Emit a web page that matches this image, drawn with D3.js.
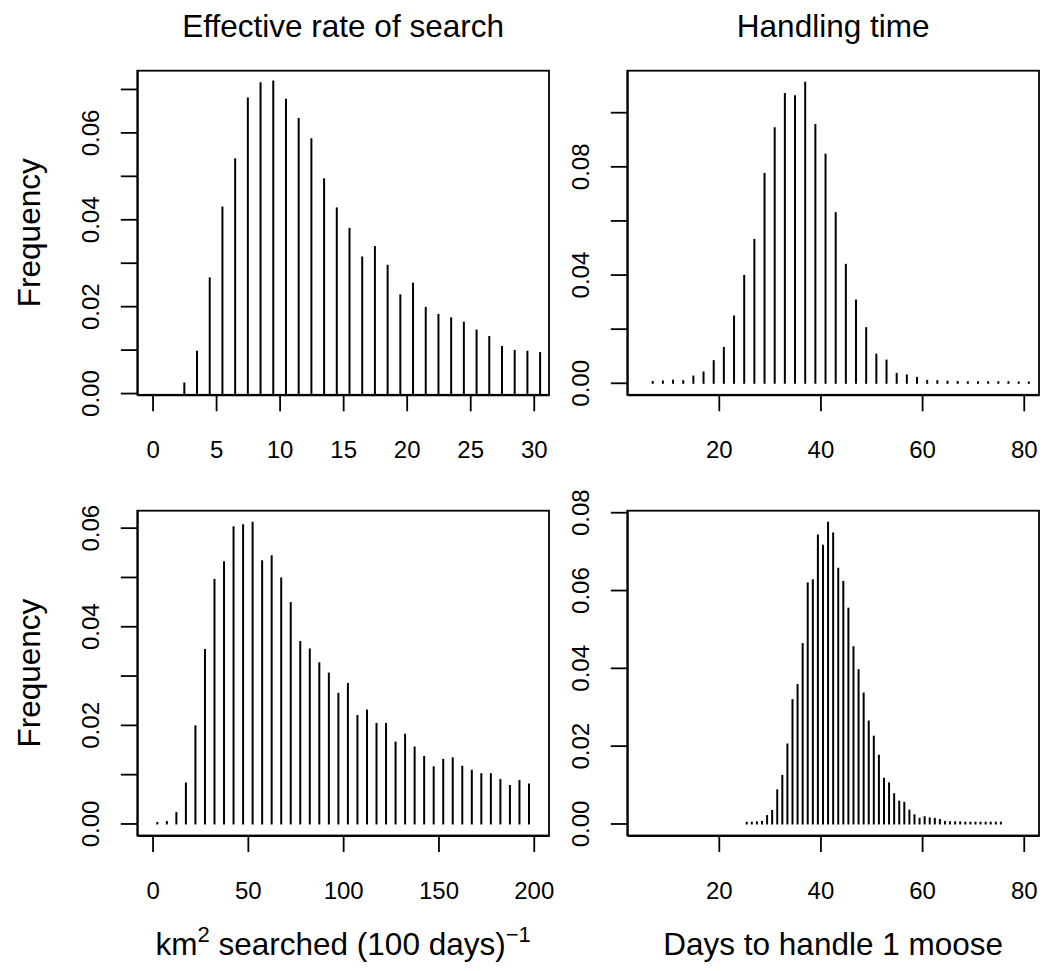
<!DOCTYPE html>
<html><head><meta charset="utf-8">
<script src="https://cdn.jsdelivr.net/npm/d3@7"></script>
<style>body{margin:0;background:#fff}svg{display:block}text{font-family:"Liberation Sans",Arial,Helvetica,sans-serif;fill:#000}</style>
</head><body><svg id="c" width="1045" height="971"></svg>
<script>
// ---- data ----
const searchDaysX = [2.5,3.5,4.5,5.5,6.5,7.5,8.5,9.5,10.5,11.5,12.5,13.5,14.5,15.5,16.5,17.5,18.5,19.5,20.5,21.5,22.5,23.5,24.5,25.5,26.5,27.5,28.5,29.5,30.5];
const searchDaysY = [0.0022,0.0095,0.0264,0.0427,0.0538,0.0678,0.0713,0.0717,0.0675,0.0631,0.0584,0.0492,0.0425,0.0378,0.0312,0.0336,0.0293,0.0225,0.0252,0.0196,0.0180,0.0172,0.0162,0.0144,0.0129,0.0106,0.0097,0.0095,0.0092];
const handleTopX = [7,9,11,13,15,17,19,21,23,25,27,29,31,33,35,37,39,41,43,45,47,49,51,53,55,57,59,61,63,65,67,69,71,73,75,77,79,81];
const handleTopY = [0.0003,0.0005,0.0008,0.0006,0.0023,0.0038,0.0080,0.0129,0.0245,0.0395,0.0528,0.0772,0.0941,0.1067,0.1059,0.1109,0.0953,0.0843,0.0627,0.0436,0.0304,0.0202,0.0104,0.0082,0.0033,0.0027,0.0018,0.0007,0.0006,0.0004,0.0003,0.0002,0.0002,0.0002,0.0002,0.0002,0.0001,0.0001];
const searchKmX = [2.5,7.5,12.5,17.5,22.5,27.5,32.5,37.5,42.5,47.5,52.5,57.5,62.5,67.5,72.5,77.5,82.5,87.5,92.5,97.5,102.5,107.5,112.5,117.5,122.5,127.5,132.5,137.5,142.5,147.5,152.5,157.5,162.5,167.5,172.5,177.5,182.5,187.5,192.5,197.5];
const searchKmY = [0.0001,0.0003,0.0021,0.0081,0.0197,0.0352,0.0494,0.0530,0.0601,0.0605,0.0610,0.0532,0.0542,0.0497,0.0447,0.0368,0.0353,0.0325,0.0304,0.0263,0.0283,0.0218,0.0229,0.0202,0.0202,0.0164,0.0180,0.0154,0.0135,0.0114,0.0129,0.0132,0.0115,0.0107,0.0100,0.0100,0.0088,0.0076,0.0086,0.0079];
const handleBotX = [25.5,26.5,27.5,28.5,29.5,30.5,31.5,32.5,33.5,34.5,35.5,36.5,37.5,38.5,39.5,40.5,41.5,42.5,43.5,44.5,45.5,46.5,47.5,48.5,49.5,50.5,51.5,52.5,53.5,54.5,55.5,56.5,57.5,58.5,59.5,60.5,61.5,62.5,63.5,64.5,65.5,66.5,67.5,68.5,69.5,70.5,71.5,72.5,73.5,74.5,75.5];
const handleBotY = [0.0002,0.0002,0.0003,0.0004,0.0019,0.0032,0.0085,0.0122,0.0203,0.0317,0.0356,0.0461,0.0617,0.0625,0.0740,0.0714,0.0773,0.0745,0.0655,0.0621,0.0552,0.0453,0.0394,0.0334,0.0262,0.0223,0.0174,0.0115,0.0103,0.0075,0.0056,0.0053,0.0033,0.0021,0.0012,0.0016,0.0013,0.0012,0.0009,0.0004,0.0003,0.0003,0.0003,0.0002,0.0002,0.0002,0.0002,0.0002,0.0002,0.0002,0.0002];

const xTicksSearchDays = [0,5,10,15,20,25,30];
const xTicksSearchKm = [0,50,100,150,200];
const xTicksHandle = [20,40,60,80];
const yTicksTL = [0,0.01,0.02,0.03,0.04,0.05,0.06,0.07];
const yLabelsTL = [0,0.02,0.04,0.06];
const yTicksTR = [0,0.02,0.04,0.06,0.08,0.10];
const yLabelsTR = [0,0.04,0.08];
const yTicksBL = [0,0.01,0.02,0.03,0.04,0.05,0.06];
const yLabelsBL = [0,0.02,0.04,0.06];
const yTicksBR = [0,0.02,0.04,0.06,0.08];
const yLabelsBR = [0,0.02,0.04,0.06,0.08];

const colTitles = ["Effective rate of search","Handling time"];
const yTitle = "Frequency";

// ---- layout ----
const svg = d3.select("#c");
const cols = [{l:137.3,r:549},{l:627.3,r:1039}];
const rows = [{t:70.7,b:394.8},{t:510.7,b:835.5}];
const panels = [
  {c:0,r:0,x:searchDaysX,y:searchDaysY,xd:[-1.2,31.2],yd:[-0.0004,0.0742],xt:xTicksSearchDays,yt:yTicksTL,yl:yLabelsTL},
  {c:1,r:0,x:handleTopX,y:handleTopY,xd:[2,83],yd:[-0.00444,0.11534],xt:xTicksHandle,yt:yTicksTR,yl:yLabelsTR},
  {c:0,r:1,x:searchKmX,y:searchKmY,xd:[-8,208],yd:[-0.00244,0.06344],xt:xTicksSearchKm,yt:yTicksBL,yl:yLabelsBL},
  {c:1,r:1,x:handleBotX,y:handleBotY,xd:[2,83],yd:[-0.00309,0.08039],xt:xTicksHandle,yt:yTicksBR,yl:yLabelsBR}
];
const fmt = d3.format(".2f");
const tick = 16.5, sw = 1.8, fs = 31.5;

panels.forEach(p=>{
  const C = cols[p.c], R = rows[p.r];
  const x = d3.scaleLinear().domain(p.xd).range([C.l,C.r]);
  const y = d3.scaleLinear().domain(p.yd).range([R.b,R.t]);
  const g = svg.append("g");
  // bars (type="h")
  g.selectAll("line.bar").data(p.x.map((v,i)=>({x:v,y:p.y[i]}))).join("line")
    .attr("class","bar")
    .attr("x1",d=>x(d.x)).attr("x2",d=>x(d.x))
    .attr("y1",y(0)).attr("y2",d=>y(d.y))
    .attr("stroke","#000").attr("stroke-width",2).attr("stroke-linecap","square");
  // box
  g.append("rect").attr("x",C.l).attr("y",R.t).attr("width",C.r-C.l).attr("height",R.b-R.t)
    .attr("fill","none").attr("stroke","#000").attr("stroke-width",sw);
  // x axis
  const xa = g.append("g").attr("transform",`translate(0,${R.b})`)
    .call(d3.axisBottom(x).tickValues(p.xt).tickSize(tick).tickSizeOuter(0).tickPadding(30).tickFormat(d3.format("d")));
  xa.select(".domain").attr("stroke-width",sw);
  xa.selectAll(".tick line").attr("stroke-width",sw);
  xa.selectAll(".tick text").attr("font-size",24).attr("font-family",null).attr("dy","0.71em");
  // y axis
  const ya = g.append("g").attr("transform",`translate(${C.l},0)`)
    .call(d3.axisLeft(y).tickValues(p.yt).tickSize(tick).tickSizeOuter(0).tickFormat(d=>p.yl.some(v=>Math.abs(v-d)<1e-9)?fmt(d):""));
  ya.select(".domain").attr("stroke-width",sw);
  ya.selectAll(".tick line").attr("stroke-width",sw);
  ya.selectAll(".tick text").attr("font-size",24).attr("font-family",null)
    .attr("x",null).attr("dy",null).attr("text-anchor","middle")
    .attr("transform","translate(-38,0) rotate(-90)");
});

// column titles
colTitles.forEach((t,i)=>{
  svg.append("text").attr("x",(cols[i].l+cols[i].r)/2).attr("y",37)
    .attr("text-anchor","middle").attr("font-size",fs).text(t);
});
// y titles
rows.forEach(R=>{
  svg.append("text").attr("transform",`translate(40,${(R.t+R.b)/2}) rotate(-90)`)
    .attr("text-anchor","middle").attr("font-size",fs).text(yTitle);
});
// x titles
const xl1 = svg.append("text").attr("x",(cols[0].l+cols[0].r)/2).attr("y",955).attr("text-anchor","middle").attr("font-size",fs);
xl1.append("tspan").text("km");
xl1.append("tspan").attr("font-size",22).attr("dy",-13).text("2");
xl1.append("tspan").attr("dy",13).text(" searched (100 days)");
xl1.append("tspan").attr("font-size",22).attr("dy",-13).text("\u22121");
svg.append("text").attr("x",(cols[1].l+cols[1].r)/2).attr("y",955).attr("text-anchor","middle").attr("font-size",fs).text("Days to handle 1 moose");
</script></body></html>
